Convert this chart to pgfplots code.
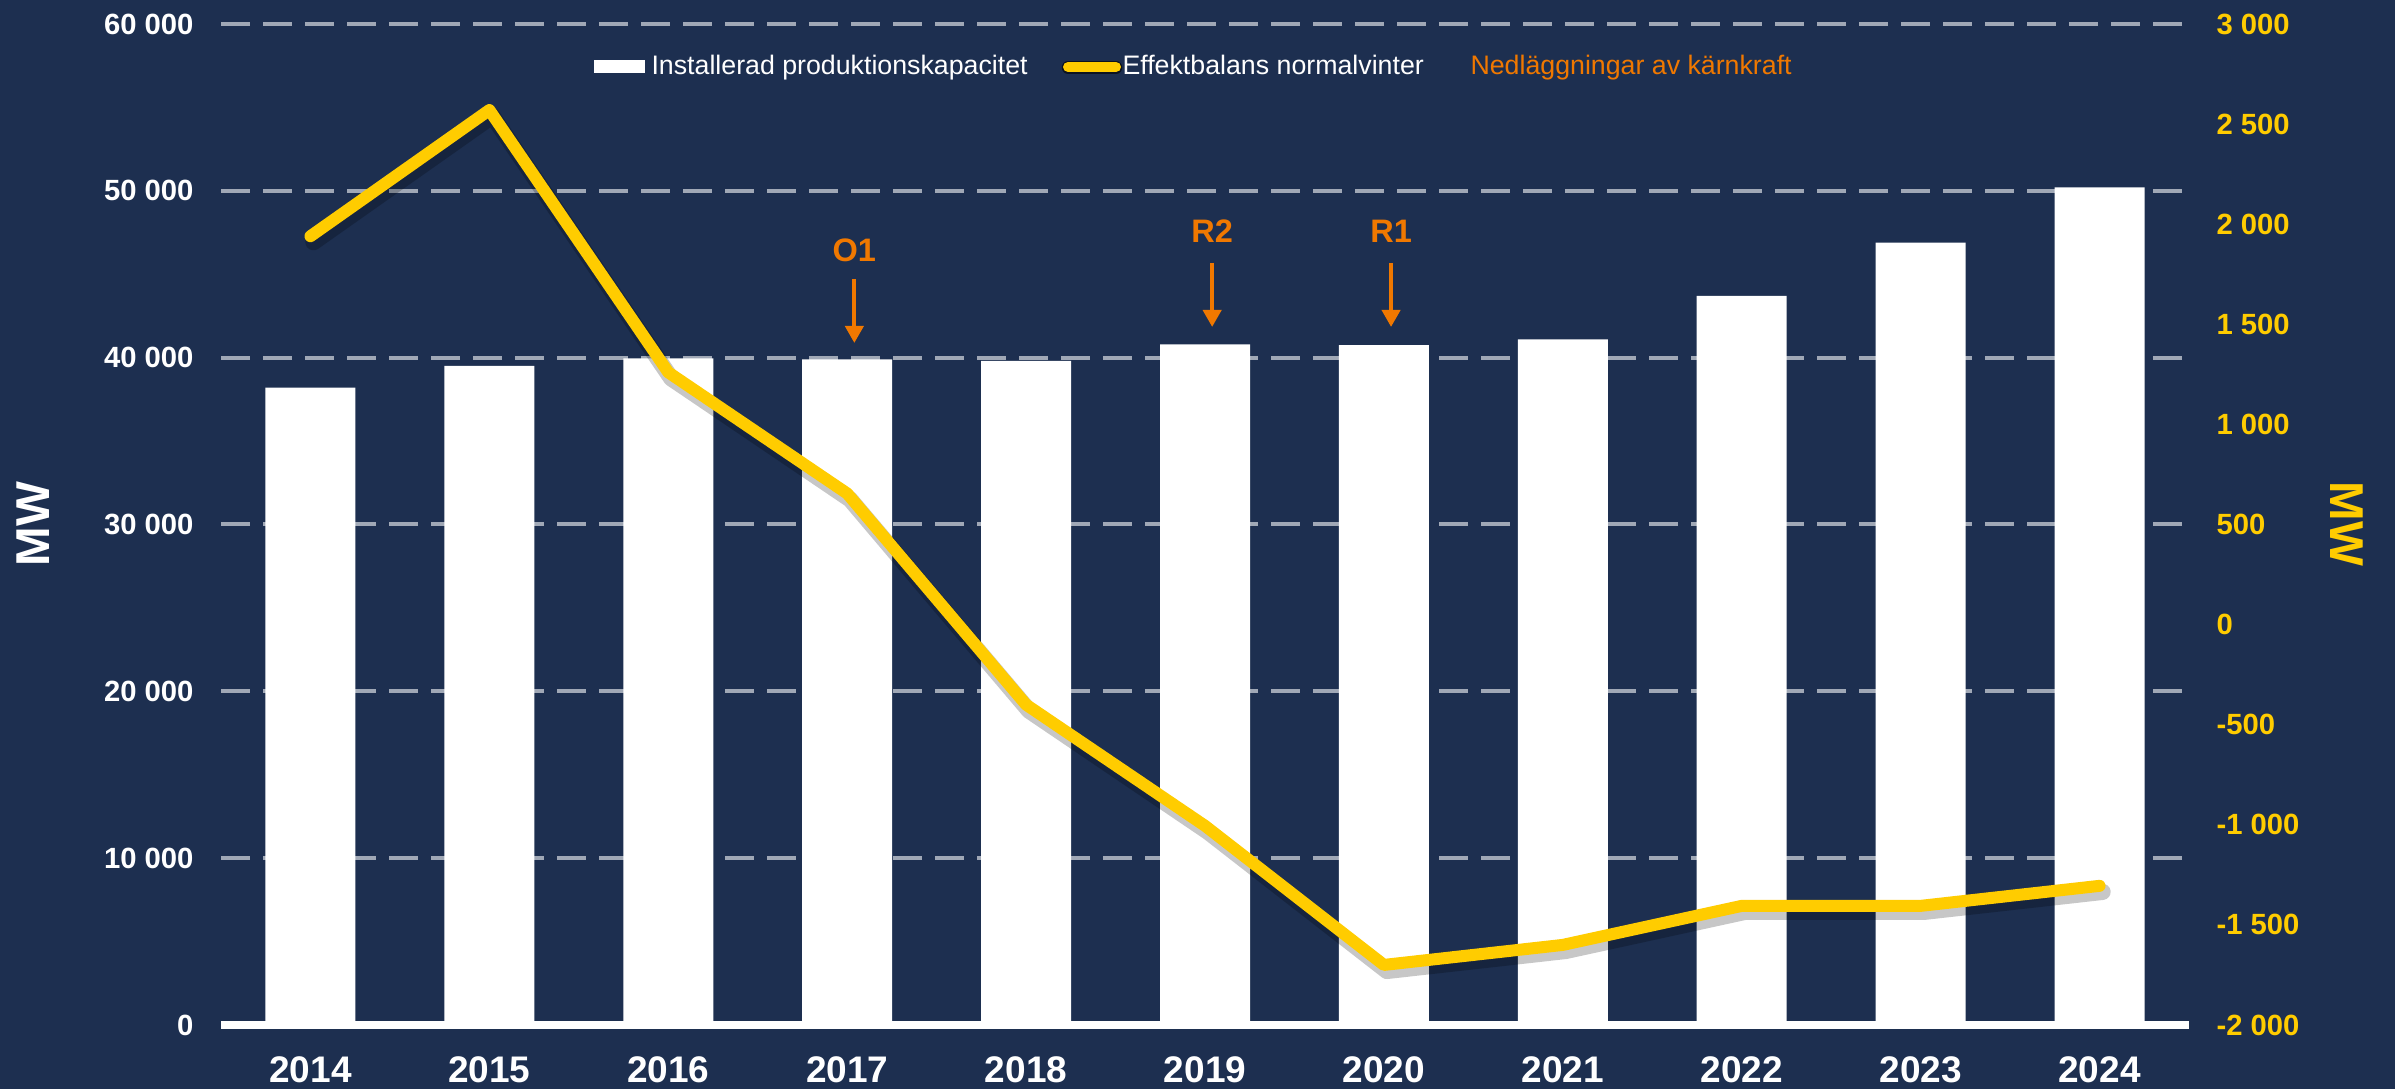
\documentclass[border=0pt]{standalone}
\usepackage{fontspec}
\setmainfont{Liberation Sans}
\usepackage{pgfplots}
\pgfplotsset{compat=1.18}
\usetikzlibrary{arrows.meta}
\definecolor{bg}{RGB}{29,47,80}
\definecolor{gridc}{RGB}{160,168,182}
\definecolor{lineY}{RGB}{255,204,0}
\definecolor{orangeN}{RGB}{240,120,0}

\begin{document}
\begin{tikzpicture}
\fill[bg] (0,0) rectangle (958pt,435.6pt);
\path[use as bounding box] (0,0) rectangle (958pt,435.6pt);

\begin{axis}[
  at={(88.4pt,25.6pt)}, anchor=south west,
  scale only axis, width=787.2pt, height=400.4pt,
  xmin=-0.5, xmax=10.5, ymin=0, ymax=60000,
  axis line style={draw=none},
  major tick length=0pt,
  xtick={0,1,2,3,4,5,6,7,8,9,10},
  xticklabels={2014,2015,2016,2017,2018,2019,2020,2021,2022,2023,2024},
  ytick={0,10000,20000,30000,40000,50000,60000},
  yticklabels={0,10 000,20 000,30 000,40 000,50 000,60 000},
  ymajorgrids,
  grid style={gridc, line width=1.6pt, dash pattern=on 11.6pt off 5.2pt},
  extra y ticks={0}, extra y tick labels={},
  extra y tick style={grid style={solid, white, line width=3.2pt}},
  xticklabel style={font=\fontsize{14.8}{16}\selectfont\bfseries, text=white, anchor=base, inner sep=0pt, yshift=-23.2pt},
  yticklabel style={font=\fontsize{11.7}{13}\selectfont\bfseries, text=white, anchor=east, inner sep=0pt, xshift=-10.8pt},
  clip=false,
]
\addplot[ybar, bar width=36pt, bar shift=0pt, fill=white, draw=none] coordinates {
  (0,38200) (1,39500) (2,39950) (3,39900) (4,39800) (5,40800)
  (6,40750) (7,41100) (8,43700) (9,46900) (10,50200)
};
% annotations: nuclear closures
\node[text=orangeN, font=\fontsize{13}{15}\selectfont\bfseries, inner sep=0pt] at (axis cs:3.04,46450) {O1};
\node[text=orangeN, font=\fontsize{13}{15}\selectfont\bfseries, inner sep=0pt] at (axis cs:5.04,47600) {R2};
\node[text=orangeN, font=\fontsize{13}{15}\selectfont\bfseries, inner sep=0pt] at (axis cs:6.04,47600) {R1};
\draw[orangeN, line width=1.6pt, -{Triangle[width=7.2pt,length=6.8pt]}] (axis cs:3.04,44716) -- (axis cs:3.04,40880);
\draw[orangeN, line width=1.6pt, -{Triangle[width=7.2pt,length=6.8pt]}] (axis cs:5.04,45675) -- (axis cs:5.04,41840);
\draw[orangeN, line width=1.6pt, -{Triangle[width=7.2pt,length=6.8pt]}] (axis cs:6.04,45675) -- (axis cs:6.04,41840);
\end{axis}

\begin{axis}[
  at={(88.4pt,25.6pt)}, anchor=south west,
  scale only axis, width=787.2pt, height=400.4pt,
  xmin=-0.5, xmax=10.5, ymin=-2000, ymax=3000,
  hide x axis,
  axis line style={draw=none},
  major tick length=0pt,
  yticklabel pos=right,
  ytick={-2000,-1500,-1000,-500,0,500,1000,1500,2000,2500,3000},
  yticklabels={-2 000,-1 500,-1 000,-500,0,500,1 000,1 500,2 000,2 500,3 000},
  yticklabel style={font=\fontsize{11.7}{13}\selectfont\bfseries, text=lineY, anchor=west, inner sep=0pt, xshift=10.8pt},
]
\addplot[lineY, line width=4.8pt, line join=round, line cap=round,
  preaction={draw=black, opacity=0.22, line width=6.5pt, transform canvas={xshift=1.2pt, yshift=-2.4pt}}] coordinates {
  (0,1940) (1,2570) (2,1260) (3,655) (4,-400) (5,-1005)
  (6,-1700) (7,-1600) (8,-1405) (9,-1405) (10,-1305)
};
\end{axis}

% legend
\fill[white] (237.6pt,406.4pt) rectangle (258pt,411.6pt);
\node[anchor=base west, inner sep=0pt, text=white, font=\fontsize{10.7}{13}\selectfont] at (260.4pt,405.6pt) {Installerad produktionskapacitet};
\draw[black!60!bg, line width=5pt, line cap=round] (427.2pt,408.6pt) -- (446.4pt,408.6pt);
\draw[lineY, line width=4pt, line cap=round] (427.2pt,408.8pt) -- (446.4pt,408.8pt);
\node[anchor=base west, inner sep=0pt, text=white, font=\fontsize{10.7}{13}\selectfont] at (448.8pt,405.6pt) {Effektbalans normalvinter};
\node[anchor=base west, inner sep=0pt, text=orangeN, font=\fontsize{10.7}{13}\selectfont] at (588pt,405.6pt) {Nedläggningar av kärnkraft};

% axis titles
\node[rotate=90, text=white, font=\fontsize{19}{22}\selectfont\bfseries, inner sep=0pt] at (13.2pt,226pt) {MW};
\node[rotate=-90, text=lineY, font=\fontsize{19}{22}\selectfont\bfseries, inner sep=0pt] at (938.8pt,226pt) {MW};
\end{tikzpicture}
\end{document}
